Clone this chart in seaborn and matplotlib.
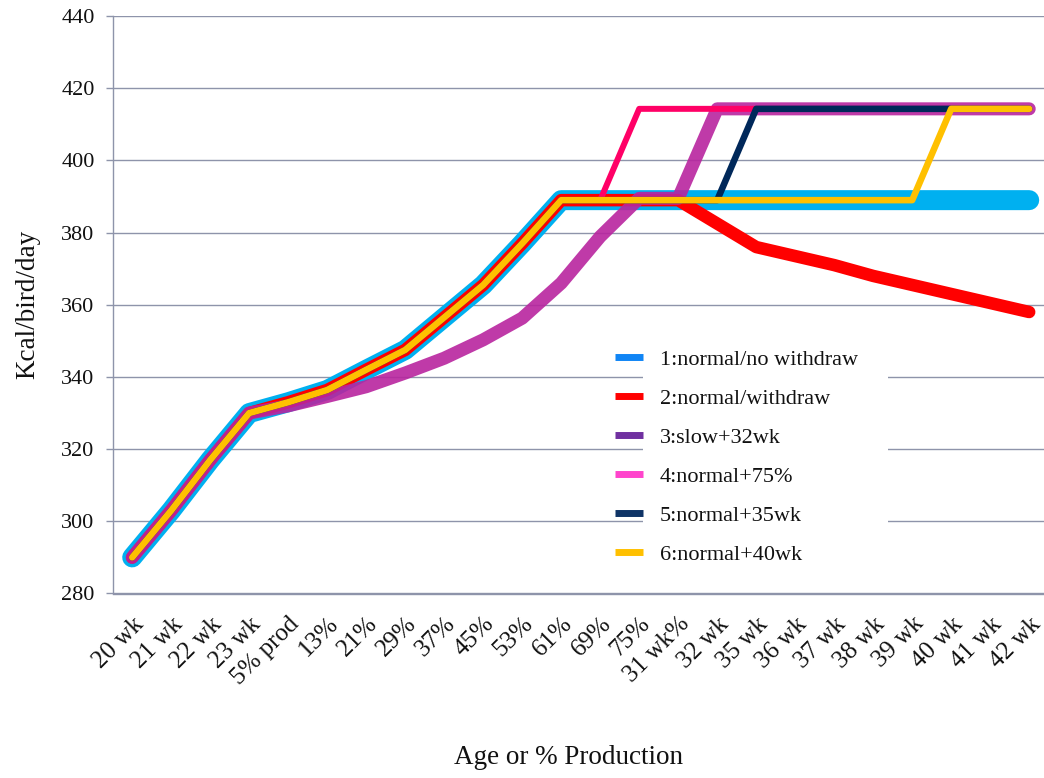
import matplotlib
matplotlib.use("Agg")
import matplotlib.pyplot as plt
from matplotlib.lines import Line2D
from matplotlib.patches import Rectangle
import seaborn as sns
import numpy as np

sns.set_theme(style="white")
plt.rcParams["font.family"] = ["Liberation Serif", "DejaVu Serif"]

# Age / production stage categories
stages = ["20 wk", "21 wk", "22 wk", "23 wk", "5% prod", "13%", "21%", "29%",
          "37%", "45%", "53%", "61%", "69%", "75%", "31 wk%", "32 wk", "35 wk",
          "36 wk", "37 wk", "38 wk", "39 wk", "40 wk", "41 wk", "42 wk"]

# Energy allowance, Kcal/bird/day
normal_no_withdraw = [290, 303, 317, 330, 333, 336.4, 342, 347.5, 356.5, 365.5, 377, 389,
                      389, 389, 389, 389, 389, 389, 389, 389, 389, 389, 389, 389]
normal_withdraw = [290, 303, 317, 330, 333, 336.4, 342, 347.5, 356.5, 365.5, 377, 389,
                   389, 389, 389, 382.5, 376, 373.5, 371, 368, 365.5, 363, 360.5, 358]
slow_32wk = [290, 303, 317, 330, 332, 334.6, 337.3, 341.1, 345.2, 350.3, 356.3, 366,
             378.9, 389.5, 389.5, 414.3, 414.3, 414.3, 414.3, 414.3, 414.3, 414.3, 414.3, 414.3]
normal_75 = [290, 303, 317, 330, 333, 336.4, 342, 347.5, 356.5, 365.5, 377, 389,
             389, 414.3, 414.3, 414.3, 414.3, 414.3, 414.3, 414.3, 414.3, 414.3, 414.3, 414.3]
normal_35wk = [290, 303, 317, 330, 333, 336.4, 342, 347.5, 356.5, 365.5, 377, 389,
               389, 389, 389, 389, 414.3, 414.3, 414.3, 414.3, 414.3, 414.3, 414.3, 414.3]
normal_40wk = [290, 303, 317, 330, 333, 336.4, 342, 347.5, 356.5, 365.5, 377, 389,
               389, 389, 389, 389, 389, 389, 389, 389, 389, 414.3, 414.3, 414.3]

series_labels = ["1:normal/no withdraw", "2:normal/withdraw", "3:slow+32wk",
                 "4:normal+75%", "5:normal+35wk", "6:normal+40wk"]
series_values = [normal_no_withdraw, normal_withdraw, slow_32wk,
                 normal_75, normal_35wk, normal_40wk]
line_colors = ["#00B0F0", "#FF0000", "#B8249F", "#FF0066", "#00285A", "#FFC000"]
line_widths = [14.4, 9.0, 9.4, 4.3, 4.7, 4.7]
line_alphas = [1.0, 1.0, 0.9, 1.0, 1.0, 1.0]
legend_colors = ["#1085F5", "#FF0000", "#7030A0", "#FF44CC", "#0F3466", "#FFC000"]

W, H = 1044, 778
fig = plt.figure(figsize=(W / 100, H / 100), dpi=100)
ax = fig.add_axes([112.7 / W, 1 - 593.5 / H, (1048.7 - 112.7) / W, (593.5 - 16.1) / H])

x = np.arange(len(stages))
for i, (vals, col, lw, a) in enumerate(zip(series_values, line_colors, line_widths, line_alphas)):
    sns.lineplot(x=x, y=vals, ax=ax, color=col, linewidth=lw, alpha=a,
                 solid_capstyle="round", solid_joinstyle="round",
                 zorder=3 + i, legend=False)

grid_col = "#8E94AA"
ax.set_xlim(-0.5, len(stages) - 0.5)
ax.set_ylim(280, 440)
ax.set_yticks(np.arange(280, 441, 20))
ax.yaxis.grid(True, color=grid_col, linewidth=1.0)
ax.xaxis.grid(False)
ax.set_axisbelow(True)

for side in ["top", "right"]:
    ax.spines[side].set_visible(False)
for side in ["left", "bottom"]:
    ax.spines[side].set_color(grid_col)
    ax.spines[side].set_linewidth(1.0)

# category labels at centres, tick marks on category boundaries
ax.set_xticks(x)
ax.set_xticklabels(stages, rotation=45, ha="right", rotation_mode="anchor",
                   fontsize=18, color="#111111")
ax.tick_params(axis="x", which="major", length=0, pad=14)
ax.set_xticks(np.arange(len(stages) + 1) - 0.5, minor=True)
ax.tick_params(axis="x", which="minor", length=5, width=1.0, color=grid_col, direction="out")
ax.tick_params(axis="y", length=5, width=1.0, color=grid_col, direction="out",
               labelsize=16, labelcolor="#111111", pad=8, left=True)

ax.set_ylabel("Kcal/bird/day", fontsize=19.5, color="#111111")
ax.yaxis.set_label_coords((28 - 112.7) / 936, 0.5)
ax.yaxis.label.set_va("center")
ax.set_xlabel("Age or % Production", fontsize=19.5, color="#111111")
ax.xaxis.label.set_va("center")
ax.xaxis.set_label_coords((569 - 112.7) / 936, (593.5 - 757) / 577.4)

# white panel behind the legend text
ax.add_artist(Rectangle((643 / W, 1 - 575 / H), (888 - 643) / W, (575 - 335) / H,
                        transform=fig.transFigure, facecolor="white",
                        edgecolor="none", zorder=1.5))

handles = [Line2D([0], [0], color=c, linewidth=5.0, solid_capstyle="butt")
           for c in legend_colors]
leg = ax.legend(handles, series_labels, loc="upper left",
                bbox_to_anchor=(615 / W, 1 - 349 / H), bbox_transform=fig.transFigure,
                frameon=False, fontsize=16, handlelength=1.26, handletextpad=0.77,
                labelspacing=0.83, borderpad=0, borderaxespad=0)
for t in leg.get_texts():
    t.set_color("#111111")

fig.savefig("out.png", dpi=100, facecolor="white")
